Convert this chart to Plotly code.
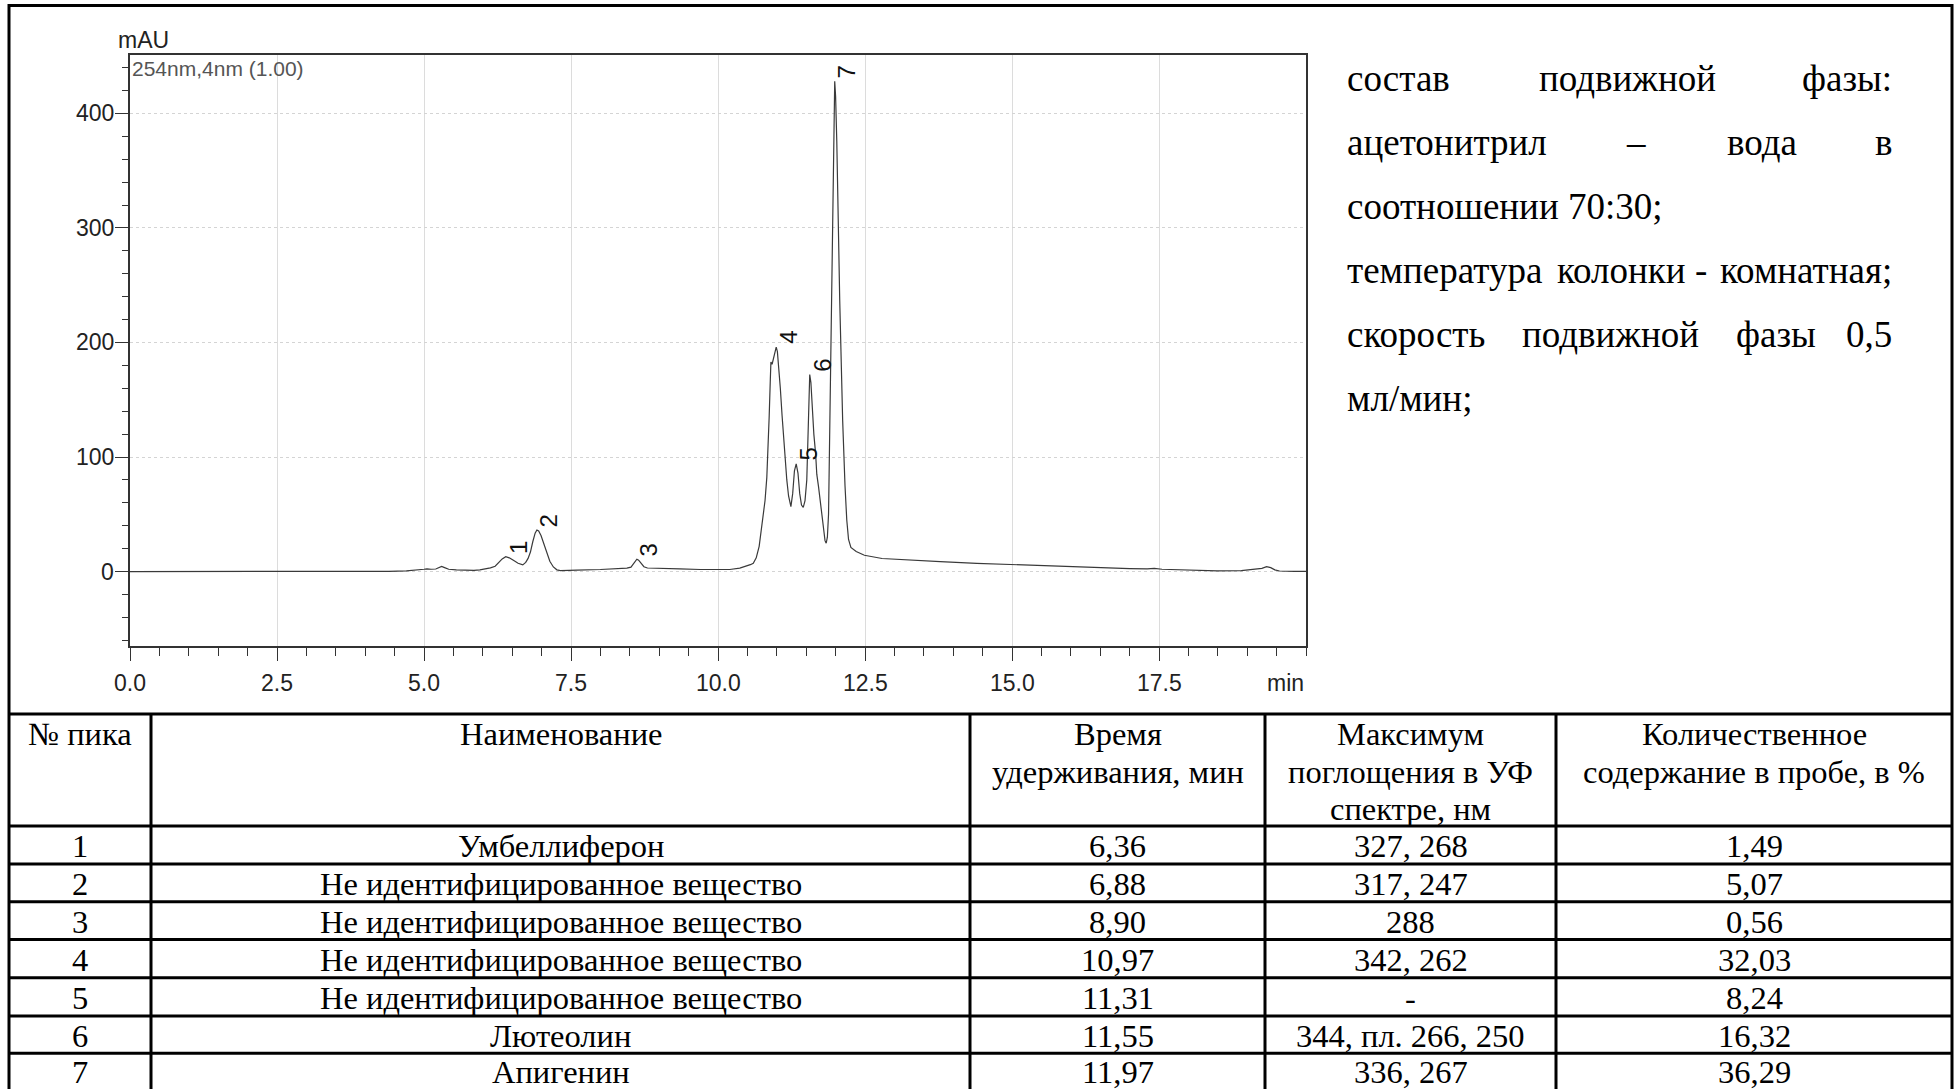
import plotly.graph_objects as go

W, H = 1957, 1089

# ---------------- data ----------------
time_min = [0.0, 0.5, 1.0, 1.5, 2.0, 2.5, 3.0, 3.5, 4.0, 4.4, 4.7, 4.9, 5.0, 5.05, 5.12, 5.2, 5.26, 5.3,
            5.35, 5.42, 5.55, 5.7, 5.85, 5.95, 6.05, 6.13, 6.21, 6.27, 6.33, 6.39, 6.45, 6.52, 6.6, 6.68,
            6.73, 6.77, 6.81, 6.85, 6.89, 6.92, 6.95, 6.99, 7.04, 7.09, 7.14, 7.2, 7.26, 7.32, 7.4, 7.6,
            8.0, 8.3, 8.45, 8.52, 8.56, 8.6, 8.62, 8.65, 8.69, 8.74, 8.8, 9.0, 9.35, 9.7, 10.0, 10.2,
            10.37, 10.47, 10.55, 10.6, 10.65, 10.7, 10.74, 10.77, 10.8, 10.83, 10.85, 10.87, 10.89, 10.9,
            10.92, 10.93, 10.96, 10.99, 11.01, 11.03, 11.06, 11.09, 11.13, 11.17, 11.2, 11.24, 11.27, 11.3,
            11.33, 11.36, 11.39, 11.42, 11.45, 11.48, 11.51, 11.53, 11.55, 11.56, 11.58, 11.6, 11.63, 11.66,
            11.68, 11.71, 11.75, 11.79, 11.82, 11.84, 11.86, 11.88, 11.9, 11.93, 11.96, 11.985, 12.0, 12.02,
            12.07, 12.12, 12.16, 12.19, 12.22, 12.26, 12.35, 12.49, 12.79, 13.3, 13.78, 14.4, 14.92, 15.6,
            16.43, 17.0, 17.3, 17.42, 17.55, 18.0, 18.49, 18.9, 19.1, 19.25, 19.33, 19.4, 19.47, 19.55,
            19.8, 20.0]
signal_mau = [0.0, 0.0, 0.0, -0.2, -0.3, -0.3, -0.4, -0.3, -0.1, 0.2, 0.6, 1.2, 2.0, 2.4, 2.0, 2.2, 3.2, 4.4,
              3.4, 2.0, 1.4, 1.0, 1.0, 1.5, 2.2, 3.2, 4.6, 7.5, 11.0, 13.0, 12.0, 9.8, 7.3, 5.8,
              8.0, 11.5, 17.0, 26.0, 33.5, 36.3, 35.5, 31.5, 23.5, 16.0, 9.0, 4.0, 1.5, 0.8, 1.0, 1.2,
              1.8, 2.4, 3.0, 3.8, 6.5, 10.0, 10.8, 10.0, 7.0, 4.2, 3.1, 2.6, 2.3, 1.8, 1.5, 1.8,
              3.0, 4.5, 6.0, 7.3, 12.0, 22.0, 37.0, 47.0, 62.0, 82.0, 105.0, 135.0, 168.0, 183.0,
              181.0, 183.0, 190.0, 196.0, 192.0, 181.0, 160.0, 136.0, 104.0, 80.0, 66.0, 56.7, 68.0, 88.0,
              94.0, 86.0, 68.0, 58.0, 56.0, 62.0, 80.0, 125.0, 165.0, 172.0, 165.0, 145.0, 120.0, 103.0,
              85.0, 74.0, 55.0, 36.0, 27.0, 24.7, 30.0, 50.0, 132.0, 237.0, 376.0, 428.0, 415.0, 376.0,
              237.0, 132.0, 75.0, 45.0, 28.0, 21.0, 17.5, 14.2, 11.4, 9.8, 8.6, 7.2, 6.2, 4.8,
              3.4, 2.6, 2.4, 2.8, 2.0, 1.2, 0.6, 0.8, 1.6, 2.8, 4.2, 3.4, 1.5, 0.5,
              0.2, 0.2]

peak_no = ["1", "2", "3", "4", "5", "6", "7"]
peak_time = [6.39, 6.92, 8.62, 10.99, 11.33, 11.56, 11.985]
peak_height = [13.0, 36.3, 10.8, 196.0, 94.0, 172.0, 428.0]

x_tickvals = [0, 2.5, 5, 7.5, 10, 12.5, 15, 17.5, 20]
x_ticktext = ["0.0", "2.5", "5.0", "7.5", "10.0", "12.5", "15.0", "17.5", ""]
y_tickvals = [0, 100, 200, 300, 400]
y_ticktext = ["0", "100", "200", "300", "400"]

table_header = [
    ["№ пика"],
    ["Наименование"],
    ["Время", "удерживания, мин"],
    ["Максимум", "поглощения в УФ", "спектре, нм"],
    ["Количественное", "содержание в пробе, в %"],
]
tbl_no = ["1", "2", "3", "4", "5", "6", "7"]
tbl_name = ["Умбеллиферон", "Не идентифицированное вещество", "Не идентифицированное вещество",
            "Не идентифицированное вещество", "Не идентифицированное вещество", "Лютеолин", "Апигенин"]
tbl_rt = ["6,36", "6,88", "8,90", "10,97", "11,31", "11,55", "11,97"]
tbl_uv = ["327, 268", "317, 247", "288", "342, 262", "-", "344, пл. 266, 250", "336, 267"]
tbl_pct = ["1,49", "5,07", "0,56", "32,03", "8,24", "16,32", "36,29"]

cond_lines = [
    ["состав", "подвижной", "фазы:"],
    ["ацетонитрил", "–", "вода", "в"],
    ["соотношении 70:30;"],
    ["температура", "колонки", "-", "комнатная;"],
    ["скорость", "подвижной", "фазы", "0,5"],
    ["мл/мин;"],
]

# ---------------- layout helpers ----------------
def px(x):
    return x / W

def py(y):
    return 1 - y / H

SANS = "Liberation Sans, Arial, sans-serif"
SERIF = "Liberation Serif, Times New Roman, serif"

fig = go.Figure()
fig.add_trace(go.Scatter(x=time_min, y=signal_mau, mode="lines",
                         line=dict(color="#3a3a3a", width=1.2), hoverinfo="skip"))

PL, PR, PT, PB = 130, 1306, 55, 646

fig.update_layout(
    width=W, height=H, margin=dict(l=0, r=0, t=0, b=0, autoexpand=False),
    paper_bgcolor="white", plot_bgcolor="white", showlegend=False,
    xaxis=dict(domain=[px(PL), px(PR)], range=[0, 20], tickmode="array",
               tickvals=x_tickvals, ticktext=x_ticktext, showticklabels=False,
               ticks="outside", ticklen=13, automargin=False,
               tickwidth=1.2, tickcolor="#333", showline=True, mirror=True,
               linecolor="#333", linewidth=1.5, showgrid=True, gridcolor="#dcdcdc",
               gridwidth=1, zeroline=False,
               minor=dict(tickmode="linear", tick0=0, dtick=0.5, ticks="outside",
                          ticklen=8, tickwidth=1.2, tickcolor="#333", showgrid=False)),
    yaxis=dict(domain=[py(PB), py(PT)], range=[-65, 451], tickmode="array",
               tickvals=y_tickvals, ticktext=y_ticktext, showticklabels=False,
               ticks="outside", ticklen=13, automargin=False,
               tickwidth=1.2, tickcolor="#333", showline=True, mirror=True,
               linecolor="#333", linewidth=1.5, showgrid=True, gridcolor="#d4d4d4",
               griddash="dot", gridwidth=1, zeroline=False,
               minor=dict(tickmode="linear", tick0=0, dtick=20, ticks="outside",
                          ticklen=6, tickwidth=1.2, tickcolor="#333", showgrid=False)),
)

ann = []
TICKF = dict(family=SANS, size=23, color="#222")
# tick labels drawn at axis coordinates
for v, s in zip(x_tickvals, x_ticktext):
    if s:
        ann.append(dict(x=v, y=py(683), xref="x", yref="paper", text=s, showarrow=False,
                        xanchor="center", yanchor="middle", font=TICKF))
for v, s in zip(y_tickvals, y_ticktext):
    ann.append(dict(x=px(116), y=v, xref="paper", yref="y", text=s, showarrow=False,
                    xanchor="right", yanchor="middle", font=TICKF))
# peak labels
for t, v, lab in zip(peak_time, peak_height, peak_no):
    ann.append(dict(x=t, y=v, xref="x", yref="y", text=lab, textangle=-90, showarrow=False,
                    xanchor="center", yanchor="middle", xshift=12, yshift=9.5,
                    font=dict(family=SANS, size=24, color="#111")))
# axis captions
ann.append(dict(x=px(143), y=py(40), xref="paper", yref="paper", text="mAU", showarrow=False,
                xanchor="center", yanchor="middle", font=TICKF))
ann.append(dict(x=px(130), y=py(69), xref="paper", yref="paper", text="254nm,4nm (1.00)",
                showarrow=False, xanchor="left", yanchor="middle",
                font=dict(family=SANS, size=21, color="#555")))
ann.append(dict(x=20, y=py(683), xref="x", yref="paper", text="min", showarrow=False,
                xanchor="right", yanchor="middle", font=TICKF))

# conditions text (justified block)
word_pos = [
    [("l", 1345), ("l", 1537), ("r", 1894)],
    [("l", 1345), ("c", 1636), ("l", 1725), ("r", 1894)],
    [("l", 1345)],
    [("l", 1345), ("l", 1555), ("c", 1701), ("r", 1894)],
    [("l", 1345), ("l", 1520), ("l", 1734), ("r", 1894)],
    [("l", 1345)],
]
anch = {"l": "left", "c": "center", "r": "right"}
for i, (words, poss) in enumerate(zip(cond_lines, word_pos)):
    yc = 79 + 63.8 * i
    for w, (a, xp) in zip(words, poss):
        ann.append(dict(x=px(xp), y=py(yc), xref="paper", yref="paper", text=w, showarrow=False,
                        xanchor=anch[a], yanchor="middle",
                        font=dict(family=SERIF, size=37, color="#000")))

# table
col_x = [9, 151, 970, 1265, 1556, 1952]
row_y = [826, 864, 901.7, 939.4, 977.7, 1016, 1053.3, 1089]
head_y = [734, 772, 809]
TF = dict(family=SERIF, size=32.5, color="#000")
for c, lines in enumerate(table_header):
    xc = (col_x[c] + col_x[c + 1]) / 2
    for k, s in enumerate(lines):
        ann.append(dict(x=px(xc), y=py(head_y[k]), xref="paper", yref="paper", text=s,
                        showarrow=False, xanchor="center", yanchor="middle", font=TF))
cols = [tbl_no, tbl_name, tbl_rt, tbl_uv, tbl_pct]
for c, col in enumerate(cols):
    xc = (col_x[c] + col_x[c + 1]) / 2
    for r, s in enumerate(col):
        yc = (row_y[r] + row_y[r + 1]) / 2 + 1
        ann.append(dict(x=px(xc), y=py(yc), xref="paper", yref="paper", text=s,
                        showarrow=False, xanchor="center", yanchor="middle", font=TF))

fig.update_layout(annotations=ann)

shapes = []
LW = dict(color="black", width=3)
# outer frame
shapes.append(dict(type="rect", xref="paper", yref="paper", x0=px(9), x1=px(1952),
                   y0=py(1092), y1=py(5.5), line=LW))
# divider between chart and table
shapes.append(dict(type="line", xref="paper", yref="paper", x0=px(9), x1=px(1952),
                   y0=py(714), y1=py(714), line=LW))
for xv in col_x[1:-1]:
    shapes.append(dict(type="line", xref="paper", yref="paper", x0=px(xv), x1=px(xv),
                       y0=py(714), y1=py(1092), line=LW))
for yv in row_y[:-1]:
    shapes.append(dict(type="line", xref="paper", yref="paper", x0=px(9), x1=px(1952),
                       y0=py(yv), y1=py(yv), line=LW))
fig.update_layout(shapes=shapes)

fig.write_html("out.html")
